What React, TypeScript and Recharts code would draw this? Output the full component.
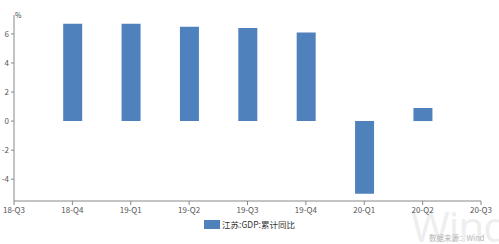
import { BarChart, Bar, XAxis, YAxis, Legend } from 'recharts'

// 江苏 GDP 累计同比 (%), by quarter
const quarters = ['18-Q3', '18-Q4', '19-Q1', '19-Q2', '19-Q3', '19-Q4', '20-Q1', '20-Q2', '20-Q3']
const gdpYoY: Array<number | null> = [null, 6.7, 6.7, 6.5, 6.4, 6.1, -5.0, 0.9, null]
const yTicks = [-4, -2, 0, 2, 4, 6]
const seriesName = '江苏:GDP:累计同比'

const data = quarters.map((q, i) => ({ i, q, value: gdpYoY[i] }))

const tickStyle = { fontSize: 8, fill: '#555', fontFamily: 'Noto Sans CJK SC, sans-serif' }

export default function App() {
  return (
    <div style={{ position: 'absolute', left: 0, top: 0, width: 499, height: 244, background: '#fff', overflow: 'hidden' }}>
      <div style={{ position: 'absolute', left: 411, top: 205, fontSize: 42, color: '#eeeeee', fontFamily: 'Open Sans, sans-serif',
        letterSpacing: -1, lineHeight: 1 }}>Wind</div>
      <div style={{ position: 'absolute', left: 0, top: 0 }}>
        <BarChart width={499} height={244} data={data} margin={{ top: 15, right: 18, bottom: 23, left: 0 }}>
          <XAxis
            type="number"
            dataKey="i"
            domain={[0, quarters.length - 1]}
            ticks={quarters.map((_, i) => i)}
            tickFormatter={(v: number) => quarters[v]}
            interval={0}
            height={20}
            tickSize={4}
            tick={tickStyle}
            stroke="#888"
            allowDecimals={false}
          />
          <YAxis
            domain={[-5.5, 7.3]}
            ticks={yTicks}
            width={14}
            tickSize={3}
            tick={tickStyle}
            stroke="#888"
            allowDataOverflow
            label={{
              content: ({ viewBox }: any) => (
                <text x={viewBox.x + viewBox.width + 1} y={viewBox.y + 3} fontSize={7} fill="#444"
                  fontFamily="Noto Sans CJK SC, sans-serif">%</text>
              ),
            }}
          />
          <Legend
            layout="horizontal"
            verticalAlign="middle"
            align="center"
            wrapperStyle={{ top: 218, left: 0, width: 499 }}
            content={() => (
              <div style={{ display: 'flex', justifyContent: 'center', alignItems: 'center', fontSize: 8.5, color: '#333',
                fontFamily: 'Noto Sans CJK SC, sans-serif' }}>
                <span style={{ display: 'inline-block', width: 16, height: 9, background: '#4f81bd', marginRight: 2 }} />
                {seriesName}
              </div>
            )}
          />
          <Bar dataKey="value" name={seriesName} fill="#4f81bd" barSize={19} isAnimationActive={false} />
        </BarChart>
      </div>
      <div style={{ position: 'absolute', left: 429, top: 234, fontSize: 7.5, color: '#b5b5b5', fontFamily: 'Noto Sans CJK SC, sans-serif',
        lineHeight: 1 }}>数据来源：Wind</div>
    </div>
  )
}
